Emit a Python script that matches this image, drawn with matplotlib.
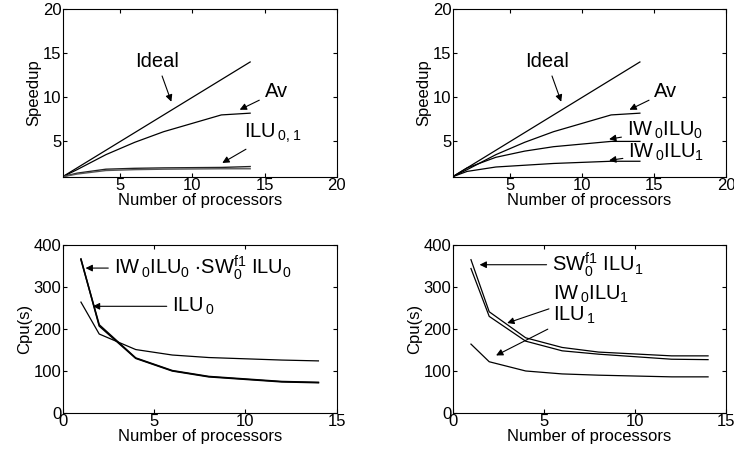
import numpy as np
import matplotlib
matplotlib.use("Agg")
import matplotlib.pyplot as plt

plt.rcParams["font.family"] = ["Liberation Sans", "DejaVu Sans"]
plt.rcParams["mathtext.fontset"] = "custom"
plt.rcParams["mathtext.rm"] = "Liberation Sans"
plt.rcParams["mathtext.default"] = "regular"

# Speedup data (processors on x)
procs = [1, 2, 4, 6, 8, 12, 14]
ideal = [1, 2, 4, 6, 8, 12, 14]
av = [1, 1.8, 3.5, 4.9, 6.1, 8.0, 8.2]
ilu0_speed = [1, 1.4, 1.85, 1.95, 2.0, 2.05, 2.15]
ilu1_speed = [1, 1.3, 1.7, 1.8, 1.85, 1.9, 1.9]
iw0ilu0_speed = [1, 2.0, 3.2, 3.9, 4.4, 5.0, 5.0]
iw0ilu1_speed = [1, 1.6, 2.1, 2.3, 2.5, 2.75, 2.75]

# Cpu time data
iw0ilu0_cpu = [367, 207, 130, 100, 86, 74, 72]
sw0ilu0_cpu = [365, 210, 131, 101, 87, 75, 73]
ilu0_cpu = [264, 188, 151, 138, 132, 126, 124]
sw0ilu1_cpu = [365, 241, 179, 156, 145, 136, 136]
iw0ilu1_cpu = [344, 230, 171, 148, 140, 128, 127]
ilu1_cpu = [164, 122, 100, 93, 90, 86, 86]

fig = plt.figure(figsize=(7.34, 4.51), dpi=100)

ax_tl = fig.add_axes([0.0854, 0.6082, 0.3733, 0.3718])
ax_tr = fig.add_axes([0.6168, 0.6082, 0.3727, 0.3718])
ax_bl = fig.add_axes([0.0854, 0.0843, 0.3733, 0.3725])
ax_br = fig.add_axes([0.6168, 0.0843, 0.3727, 0.3725])

lw = 0.9
tfs = 14.5
lfs = 12
arrow = dict(arrowstyle="-|>", color="black", lw=0.8, mutation_scale=10)


def style(ax):
    ax.tick_params(direction="in", top=True, right=True, length=3,
                   labelsize=lfs, pad=1)
    for s in ax.spines.values():
        s.set_linewidth(0.8)
    ax.set_xlabel("Number of processors", fontsize=lfs, labelpad=0)


for ax in (ax_tl, ax_tr):
    ax.set_xlim(1, 20)
    ax.set_ylim(1, 20)
    ax.set_xticks([5, 10, 15, 20])
    ax.set_yticks([5, 10, 15, 20])
    ax.set_ylabel("Speedup", fontsize=lfs, labelpad=1)
    style(ax)
    ax.plot(procs, ideal, color="black", lw=lw)
    ax.plot(procs, av, color="black", lw=lw)
    ax.annotate("Ideal", xy=(8.6, 9.2), xytext=(6.0, 14.1), fontsize=tfs,
                va="center", ha="left", arrowprops=arrow)
    ax.annotate("Av", xy=(13.1, 8.45), xytext=(15.0, 10.6), fontsize=tfs,
                va="center", ha="left", arrowprops=arrow)

# top left
ax_tl.plot(procs, ilu0_speed, color="#222222", lw=1.0)
ax_tl.plot(procs, ilu1_speed, color="#555555", lw=1.0)
ax_tl.annotate("ILU$_{\\,0,1}$", xy=(11.9, 2.4), xytext=(13.6, 5.9),
               fontsize=tfs, va="center", ha="left", arrowprops=arrow)

# top right
ax_tr.plot(procs, iw0ilu0_speed, color="black", lw=lw)
ax_tr.plot(procs, iw0ilu1_speed, color="black", lw=lw)
ax_tr.annotate("IW$_{\\,0}$ILU$_0$", xy=(11.67, 5.2), xytext=(13.1, 6.3),
               fontsize=tfs, va="center", ha="left", arrowprops=arrow)
ax_tr.annotate("IW$_{\\,0}$ILU$_1$", xy=(11.67, 2.8), xytext=(13.2, 3.8),
               fontsize=tfs, va="center", ha="left", arrowprops=arrow)

for ax in (ax_bl, ax_br):
    ax.set_xlim(0, 15)
    ax.set_ylim(0, 400)
    ax.set_xticks([0, 5, 10, 15])
    ax.set_yticks([0, 100, 200, 300, 400])
    ax.set_ylabel("Cpu(s)", fontsize=lfs, labelpad=1)
    style(ax)

# bottom left
ax_bl.plot(procs, iw0ilu0_cpu, color="black", lw=1.1)
ax_bl.plot(procs, sw0ilu0_cpu, color="black", lw=1.1)
ax_bl.plot(procs, ilu0_cpu, color="black", lw=lw)
ax_bl.annotate("IW$_{\\,0}$ILU$_0$ $\\cdot$SW$_0^{f1}$ ILU$_0$",
               xy=(1.1, 345), xytext=(2.8, 345), fontsize=tfs,
               va="center", ha="left", arrowprops=arrow)
ax_bl.annotate("ILU$_{\\,0}$", xy=(1.5, 254), xytext=(6.0, 254), fontsize=tfs,
               va="center", ha="left", arrowprops=arrow)

# bottom right
ax_br.plot(procs, sw0ilu1_cpu, color="black", lw=lw)
ax_br.plot(procs, iw0ilu1_cpu, color="black", lw=lw)
ax_br.plot(procs, ilu1_cpu, color="black", lw=lw)
ax_br.annotate("SW$_0^{f1}$ ILU$_1$", xy=(1.32, 353), xytext=(5.45, 353),
               fontsize=tfs, va="center", ha="left", arrowprops=arrow)
ax_br.annotate("IW$_{\\,0}$ILU$_1$", xy=(2.84, 212), xytext=(5.5, 282),
               fontsize=tfs, va="center", ha="left", arrowprops=arrow)
ax_br.annotate("ILU$_{\\,1}$", xy=(2.24, 134), xytext=(5.5, 232),
               fontsize=tfs, va="center", ha="left", arrowprops=arrow)

fig.savefig("out.png", dpi=100)
